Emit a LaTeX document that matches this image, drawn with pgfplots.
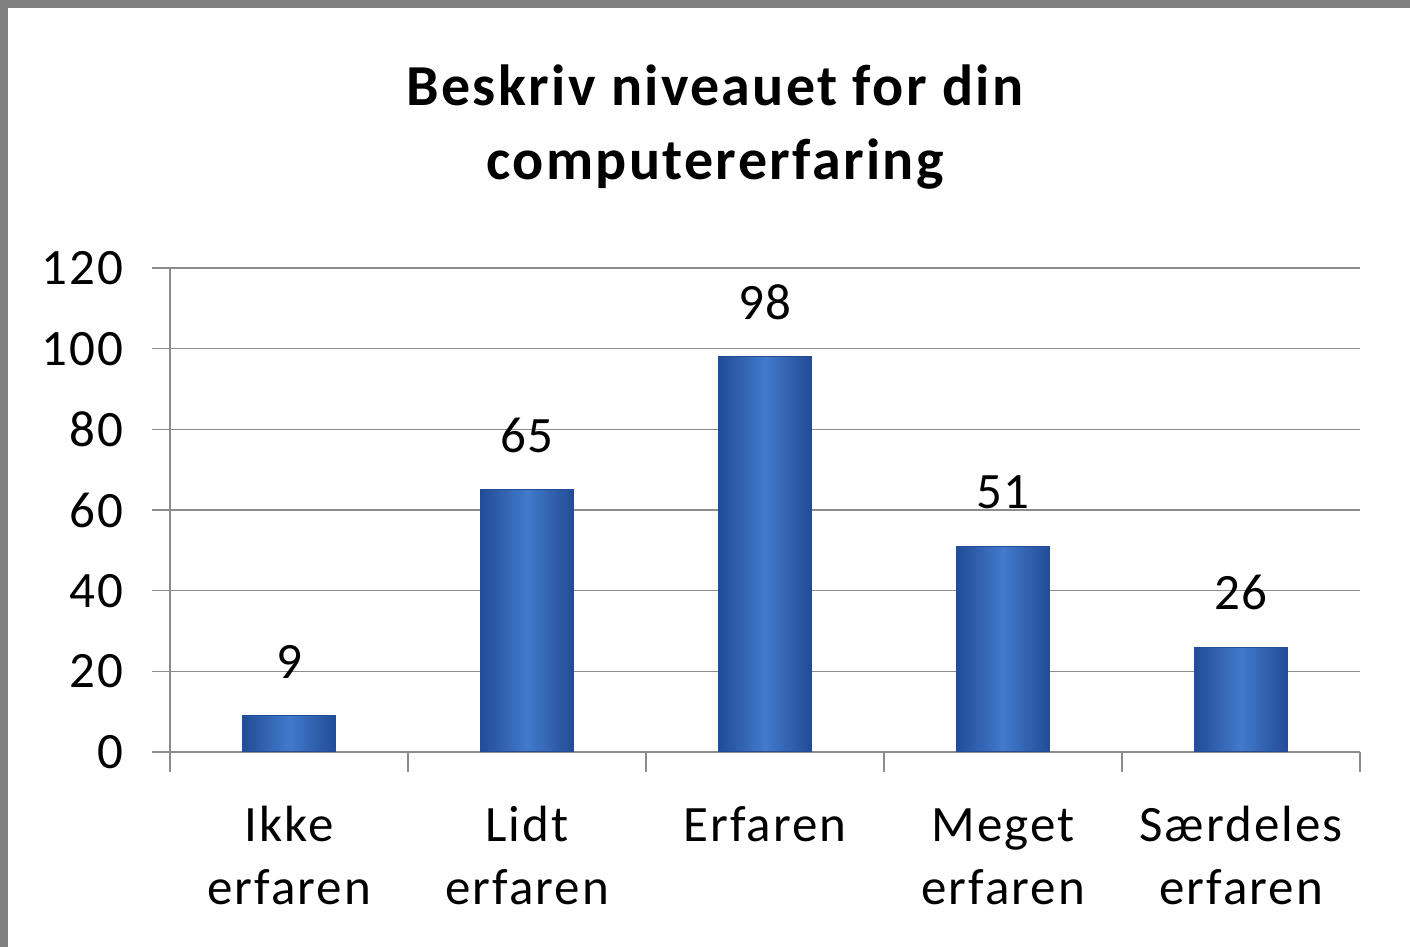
\documentclass[border=0pt]{standalone}
\usepackage{pgfplots}
\pgfplotsset{compat=1.18}
\usepackage{fontspec}
\setmainfont{Carlito}
\newfontfamily\titlefont[LetterSpace=4]{Carlito}
\newfontfamily\labfont[LetterSpace=4]{Carlito}
\definecolor{barmid}{RGB}{66,122,204}
\definecolor{baredge}{RGB}{34,76,150}
\definecolor{gridc}{RGB}{140,140,140}
\definecolor{framec}{RGB}{128,128,128}
\pgfplotsset{mybar/.style={draw=baredge, line width=0.6pt, left color=baredge, right color=baredge, middle color=barmid}}
\begin{document}
\begin{tikzpicture}
\useasboundingbox (0,0) rectangle (705pt,473.5pt);
\fill[white] (0,0) rectangle (705pt,473.5pt);
\fill[framec] (0,0) rectangle (4pt,473.5pt);
\fill[framec] (0,469.5pt) rectangle (705pt,473.5pt);
\node[font=\titlefont\bfseries\fontsize{29}{37}\selectfont, align=center] at (357.5pt,410pt) {Beskriv niveauet for din\\computererfaring};
\begin{axis}[
  at={(85pt,97.5pt)}, anchor=south west,
  scale only axis, width=595pt, height=242pt,
  xmin=-0.5, xmax=4.5, ymin=0, ymax=120,
  ytick={0,20,...,120},
  xtick={0,1,2,3,4},
  xticklabels={{Ikke\\erfaren},{Lidt\\erfaren},{Erfaren},{\vphantom{k}Meget\\erfaren},{Særdeles\\erfaren}},
  xticklabel style={align=center, font=\labfont\fontsize{25.5}{31.5}\selectfont, anchor=north, yshift=-14.5pt},
  yticklabel style={font=\labfont\fontsize{25.5}{30}\selectfont, xshift=-11pt},
  /pgf/number format/assume math mode=true,
  major x tick style={draw=none},
  minor xtick={-0.5,0.5,...,4.5},
  minor tick length=10pt,
  minor x tick style={draw=gridc, line width=0.8pt},
  ytick style={draw=gridc, line width=0.8pt},
  tick align=outside, major tick length=9pt,
  ymajorgrids, grid style={gridc, line width=0.8pt},
  axis x line*=bottom, axis y line*=left,
  x axis line style={draw=gridc, line width=0.8pt, -},
  y axis line style={draw=gridc, line width=0.8pt, -},
  ybar, bar width=46.5pt, bar shift=0pt,
  nodes near coords,
  nodes near coords style={font=\labfont\fontsize{25.5}{30}\selectfont, text=black, yshift=15pt},
]
\addplot[mybar] coordinates {(0,9)};
\addplot[mybar] coordinates {(1,65)};
\addplot[mybar] coordinates {(2,98)};
\addplot[mybar] coordinates {(3,51)};
\addplot[mybar] coordinates {(4,26)};
\end{axis}
\end{tikzpicture}
\end{document}
